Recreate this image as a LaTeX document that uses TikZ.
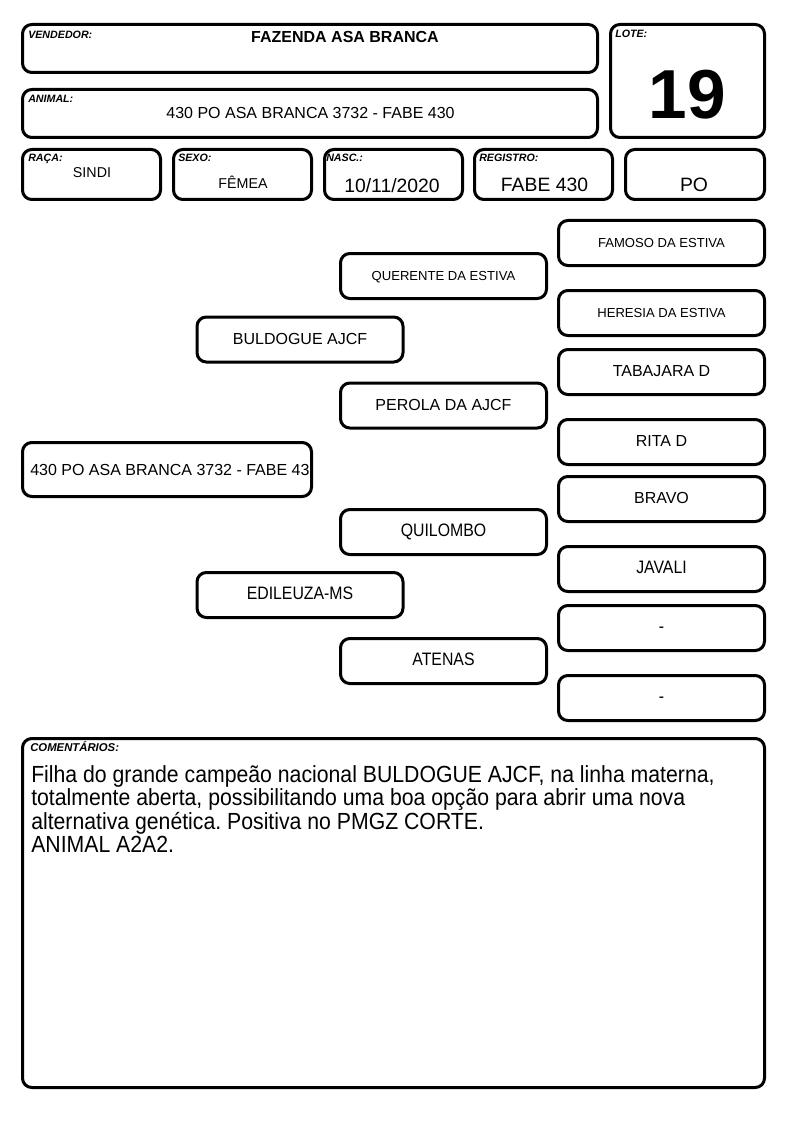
\documentclass[tikz,border=0pt]{standalone}
\usepackage{fontspec}
\setmainfont{Liberation Sans}
\newfontfamily\estreita[FakeStretch=0.88]{Liberation Sans}
\newfontfamily\comentfont[FakeStretch=0.91]{Liberation Sans}
\usetikzlibrary{positioning}
\newcommand{\pequena}{\fontsize{9.8}{11}\selectfont}
\newcommand{\media}{\fontsize{12}{14}\selectfont}
\newcommand{\estreitaped}{\estreita\fontsize{13.5}{15}\selectfont}
\frenchspacing
\tikzset{
    campo/.style={draw, line width=2.25pt, rounded corners=7pt, inner sep=0pt},
    ficha/.style={campo, minimum width=103.5pt, minimum height=37.5pt},
    pedigree/.style={campo, minimum width=154.5pt, minimum height=33.75pt, text height=0.716em, text depth=0pt},
    rotulo/.style={anchor=base west, inner sep=0pt, font=\bfseries\itshape\fontsize{8}{9}\selectfont},
    valor/.style={anchor=base, inner sep=0pt, font=\fontsize{10.7}{12}\selectfont},
    grande/.style={valor, font=\fontsize{14.5}{16}\selectfont}
}

\begin{document}
\begin{tikzpicture}[x=0.75pt, y=-0.75pt]
    \useasboundingbox (0,0) rectangle (794,1123);

    % 1. Header: seller, animal and lot
    \node[campo, minimum width=431.25pt, minimum height=36pt] (vendedor) at (310,48.5) {};
    \node[rotulo] (vendedorRot) at (28,39) {VENDEDOR:};
    \node[valor, font=\bfseries\fontsize{12}{14}\selectfont] (vendedorVal) at (345,43) {FAZENDA ASA BRANCA};

    \node[campo, minimum width=431.25pt, minimum height=36pt] (animal) at (310,113.5) {};
    \node[rotulo] (animalRot) at (28,103) {ANIMAL:};
    \node[valor, font=\media] (animalVal) at (310.5,119) {430 PO ASA BRANCA 3732 - FABE 430};

    \node[campo, minimum width=115.5pt, minimum height=84.75pt] (lote) at (687.5,81) {};
    \node[rotulo] (loteRot) at (615,38) {LOTE:};
    \node[valor, font=\bfseries\fontsize{52}{52}\selectfont] (loteVal) at (687.5,119) {19};

    % 2. Data row
    \node[ficha] (raca) at (91.5,174.5) {};
    \node[ficha] (sexo) at (242.5,174.5) {};
    \node[ficha] (nasc) at (393.5,174.5) {};
    \node[ficha] (registro) at (543.5,174.5) {};
    \node[ficha, minimum width=104.25pt] (categoria) at (695,174.5) {};

    \node[rotulo] (racaRot) at (28,162) {RAÇA:};
    \node[rotulo] (sexoRot) at (178,162) {SEXO:};
    \node[rotulo] (nascRot) at (326,162) {NASC.:};
    \node[rotulo] (registroRot) at (479,162) {REGISTRO:};

    \node[valor] (racaVal) at (92,178) {SINDI};
    \node[valor] (sexoVal) at (243,189) {FÊMEA};
    \node[grande] (nascVal) at (392,193) {10/11/2020};
    \node[grande] (registroVal) at (544.5,192) {FABE 430};
    \node[grande] (categoriaVal) at (694,192) {PO};

    % 3. Pedigree
    \node[campo, minimum width=216.75pt, minimum height=40.5pt] (animalPed) at (167,469.5) {};
    \node[anchor=west, inner sep=0pt, font=\media] (animalPedVal) at (30,470) {430 PO ASA BRANCA 3732 - FABE 43};

    \node[pedigree, font=\media] (pai) at (300,339.5) {BULDOGUE AJCF};
    \node[pedigree, font=\estreitaped] (mae) at (300,595) {EDILEUZA-MS};

    \node[pedigree, font=\pequena] (avoPP) at (443.5,276) {QUERENTE DA ESTIVA};
    \node[pedigree, font=\media] (avoPM) at (443.5,405.5) {PEROLA DA AJCF};
    \node[pedigree, font=\estreitaped] (avoMP) at (443.5,532) {QUILOMBO};
    \node[pedigree, font=\estreitaped] (avoMM) at (443.5,661) {ATENAS};

    \foreach \i/\y/\fonte/\txt in {1/243/\pequena/{FAMOSO DA ESTIVA},
                                   2/313/\pequena/{HERESIA DA ESTIVA},
                                   3/372/\media/{TABAJARA D},
                                   4/442/\media/{RITA D},
                                   5/499/\media/{BRAVO},
                                   6/569/\estreitaped/{JAVALI},
                                   7/628/\estreitaped/{-},
                                   8/698/\estreitaped/{-}} {
        \node[pedigree, font=\fonte] (bisavo\i) at (661.5,\y) {\txt};
    }

    % 4. Comments
    \node[campo, minimum width=556.5pt, minimum height=261.75pt] (comentarios) at (393.5,913) {};
    \node[rotulo, font=\bfseries\itshape\fontsize{8.5}{9}\selectfont] (comentariosRot) at (30,751) {COMENTÁRIOS:};
    \node[anchor=north west, inner sep=0pt, align=left, font=\comentfont\fontsize{17.5}{17.6}\selectfont] (comentariosVal) at (31,765)
        {Filha do grande campeão nacional BULDOGUE AJCF, na linha materna,\\
         totalmente aberta, possibilitando uma boa opção para abrir uma nova\\
         alternativa genética. Positiva no PMGZ CORTE.\\
         ANIMAL A2A2.};

\end{tikzpicture}
\end{document}
